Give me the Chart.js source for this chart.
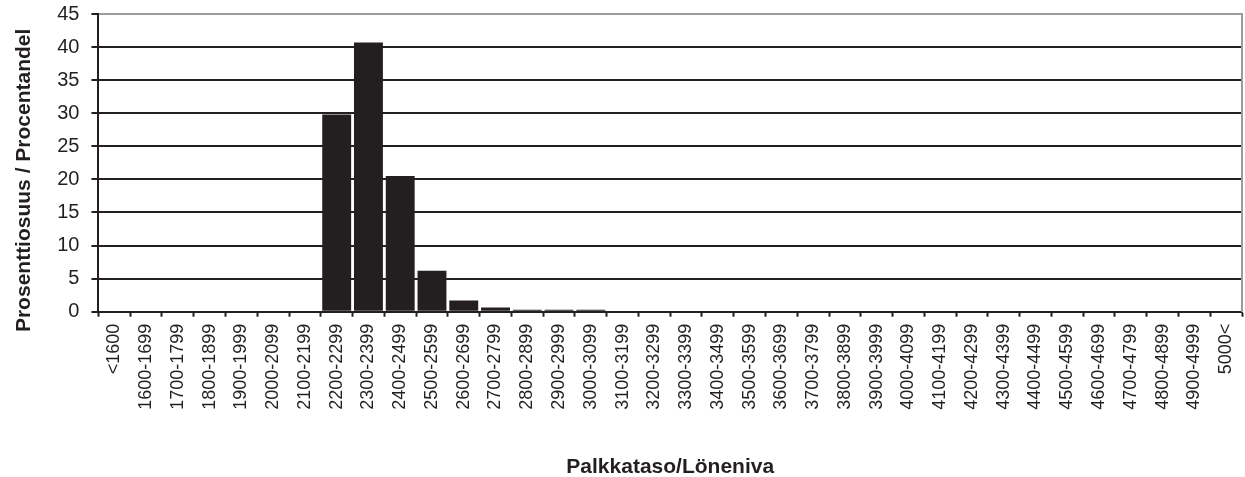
<!DOCTYPE html>
<html>
<head>
<meta charset="utf-8">
<script src="https://cdn.jsdelivr.net/npm/chart.js@4"></script>
<style>
  html, body { margin: 0; padding: 0; background: #fff; }
  #wrap { width: 1245px; height: 477px; }
</style>
</head>
<body>
<div id="wrap"><canvas id="grafico"></canvas></div>
<script>
const palkkaluokat = [
    '<1600', '1600-1699', '1700-1799', '1800-1899', '1900-1999', '2000-2099',
    '2100-2199', '2200-2299', '2300-2399', '2400-2499', '2500-2599', '2600-2699',
    '2700-2799', '2800-2899', '2900-2999', '3000-3099', '3100-3199', '3200-3299',
    '3300-3399', '3400-3499', '3500-3599', '3600-3699', '3700-3799', '3800-3899',
    '3900-3999', '4000-4099', '4100-4199', '4200-4299', '4300-4399', '4400-4499',
    '4500-4599', '4600-4699', '4700-4799', '4800-4899', '4900-4999', '5000<'
];

const osuudet = [
    0, 0, 0, 0, 0, 0,
    0, 29.8, 40.7, 20.5, 6.2, 1.7,
    0.65, 0.3, 0.3, 0.3, 0, 0,
    0, 0, 0, 0, 0, 0,
    0, 0, 0, 0, 0, 0,
    0, 0, 0, 0, 0, 0
];

const yMax = 45;
const yStep = 5;

const tumma = '#231f20';
const harmaa = '#9b9b9b';
const fontti = "'Liberation Sans', Arial, Helvetica, sans-serif";

// otsikko on alkuperäisessä hieman alempana kuin kuva-alueen keskellä
const yOtsikko = 'Prosenttiosuus / Procentandel' + '\u00a0'.repeat(6);

const ctx = document.getElementById('grafico').getContext('2d');

new Chart(ctx, {
    type: 'bar',
    data: {
        labels: palkkaluokat,
        datasets: [{
            data: osuudet,
            backgroundColor: tumma,
            borderWidth: 0,
            barPercentage: 0.91,
            categoryPercentage: 1
        }]
    },
    options: {
        responsive: true,
        maintainAspectRatio: false,
        animation: false,
        layout: {
            padding: { left: 12, right: 3, top: 0, bottom: -3 }
        },
        plugins: {
            legend: { display: false },
            tooltip: { enabled: false }
        },
        scales: {
            x: {
                grid: {
                    offset: true,
                    drawOnChartArea: false,
                    drawTicks: true,
                    tickLength: 5,
                    tickColor: tumma,
                    tickWidth: 2
                },
                border: { color: tumma, width: 2 },
                ticks: {
                    color: tumma,
                    font: { family: fontti, size: 18, lineHeight: 0.5 },
                    minRotation: 90,
                    maxRotation: 90,
                    autoSkip: false,
                    padding: 7
                },
                title: {
                    display: true,
                    text: 'Palkkataso/Löneniva',
                    color: tumma,
                    font: { family: fontti, size: 21, weight: 'bold' },
                    padding: { top: 38, bottom: 0 }
                }
            },
            y: {
                min: 0,
                max: yMax,
                ticks: {
                    stepSize: yStep,
                    color: tumma,
                    font: { family: fontti, size: 20, lineHeight: 0.2 },
                    padding: 12
                },
                grid: {
                    color: c => (c.tick && c.tick.value === yMax) ? harmaa : tumma,
                    lineWidth: 2,
                    tickLength: 7,
                    tickColor: tumma,
                    tickWidth: 2
                },
                border: { color: tumma, width: 2 },
                title: {
                    display: true,
                    text: yOtsikko,
                    color: tumma,
                    font: { family: fontti, size: 21, weight: 'bold' },
                    padding: { top: 0, bottom: 8 }
                }
            },
            oikea: {
                position: 'right',
                min: 0,
                max: yMax,
                ticks: { display: false },
                grid: { drawOnChartArea: false, drawTicks: false },
                border: { color: harmaa, width: 2 }
            }
        }
    }
});
</script>
</body>
</html>
